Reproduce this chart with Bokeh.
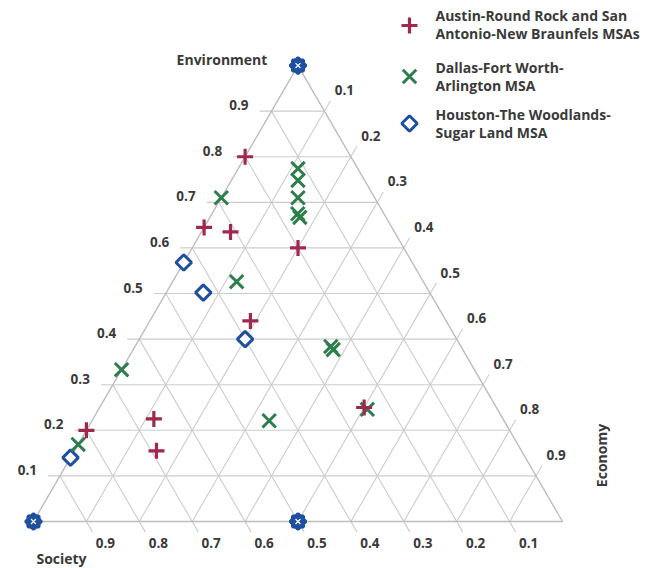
import numpy as np
from bokeh.plotting import figure
from bokeh.models import ColumnDataSource, Range1d
from bokeh.embed import file_html
from bokeh.resources import INLINE
from bokeh.core.properties import value

# ---------------- data (society, economy, environment shares) ----------------
axis_ticks = [0.1, 0.2, 0.3, 0.4, 0.5, 0.6, 0.7, 0.8, 0.9]
tick_labels = ["0.1", "0.2", "0.3", "0.4", "0.5", "0.6", "0.7", "0.8", "0.9"]

austin_society     = [0.20, 0.355, 0.31, 0.20, 0.37, 0.80, 0.66, 0.69, 0.25]
austin_economy     = [0.00, 0.000, 0.055, 0.20, 0.19, 0.00, 0.115, 0.155, 0.50]
austin_environment = [0.80, 0.645, 0.635, 0.60, 0.44, 0.20, 0.225, 0.155, 0.25]

dallas_society     = [0.29, 0.113, 0.126, 0.145, 0.163, 0.163, 0.353, 0.246, 0.245, 0.444, 0.246, 0.667, 0.831]
dallas_economy     = [0.00, 0.113, 0.126, 0.145, 0.162, 0.170, 0.121, 0.370, 0.378, 0.335, 0.508, 0.000, 0.000]
dallas_environment = [0.71, 0.774, 0.748, 0.710, 0.675, 0.667, 0.526, 0.384, 0.377, 0.221, 0.246, 0.333, 0.169]

houston_society     = [0.0, 0.432, 0.428, 0.4, 0.86, 1.0, 0.5]
houston_economy     = [0.0, 0.000, 0.070, 0.2, 0.00, 0.0, 0.5]
houston_environment = [1.0, 0.568, 0.502, 0.4, 0.14, 0.0, 0.0]
houston_overlap     = [3, 1, 1, 1, 1, 3, 3]   # coinciding entries at a location

series_names = [["Austin-Round Rock and San", "Antonio-New Braunfels MSAs"],
                ["Dallas-Fort Worth-", "Arlington MSA"],
                ["Houston-The Woodlands-", "Sugar Land MSA"]]
axis_titles = ["Environment", "Society", "Economy"]

RED, GREEN, BLUE = "#a0284f", "#2e7d4c", "#1f4f9f"
GRID = "#cccccc"
TXT = "#3a3a3a"
FONT = value("Open Sans")

# ---------------- geometry (page pixels <-> ternary data) ----------------
H = np.sqrt(3) / 2
PXX, PXY = 529.0, 526.5        # pixels per data unit
W, HT = 652, 568
OX, OY = 33, 521               # page pixel of the Society vertex

def to_xy(ec, en):
    ec = np.asarray(ec, dtype=float)
    en = np.asarray(en, dtype=float)
    return ec + en / 2, en * H

def px(xp, yp):
    return (xp - OX) / PXX, (OY - yp) / PXY

p = figure(width=W, height=HT, output_backend="svg", toolbar_location=None,
           x_range=Range1d(-OX / PXX, (W - OX) / PXX),
           y_range=Range1d(-(HT - OY) / PXY, OY / PXY),
           x_axis_location=None, y_axis_location=None, min_border=0)
p.grid.visible = False
p.outline_line_color = None
p.background_fill_color = "white"

TICK = 12
gx, gy = [], []
for t in axis_ticks:
    gx.append([t / 2 - TICK / PXX, 1 - t / 2]); gy.append([t * H, t * H])
    gx.append([(1 - t) / 2, (1 - t) + 0.5 * TICK / PXX]); gy.append([(1 - t) * H, -H * TICK / PXY])
    gx.append([t, t + (1 - t) / 2 + 0.5 * TICK / PXX]); gy.append([0, (1 - t) * H + H * TICK / PXY])
p.multi_line(gx, gy, line_color=GRID, line_width=1.1)
p.line([0, 1, 0.5, 0], [0, 0, H, 0], line_color="#bdbdbd", line_width=1.4)

t_arr = np.array(axis_ticks)
common = dict(text_font=FONT, text_font_size="13.5px", text_color=TXT, text_font_style="bold")
p.text(x=t_arr / 2, y=t_arr * H, text=tick_labels, text_align="right", text_baseline="middle",
       x_offset=-23, y_offset=-6, **common)
p.text(x=1 - t_arr, y=np.zeros_like(t_arr), text=tick_labels, text_align="center",
       text_baseline="middle", x_offset=19, y_offset=21, **common)
p.text(x=t_arr + (1 - t_arr) / 2, y=(1 - t_arr) * H, text=tick_labels, text_align="center",
       text_baseline="middle", x_offset=20, y_offset=-21, **common)

title_style = dict(text_font=FONT, text_font_size="14px", text_color=TXT, text_font_style="bold",
                   text_align="center", text_baseline="middle")
p.text(x=[0.5], y=[H], text=[axis_titles[0]], x_offset=-76, y_offset=-6, **title_style)
p.text(x=[0.0], y=[0.0], text=[axis_titles[1]], x_offset=28, y_offset=37, **title_style)
ex, ey = px(601, 455)
p.text(x=[ex], y=[ey], text=[axis_titles[2]], angle=np.pi / 2, **title_style)

# ---------------- markers ----------------
hx, hy = to_xy(houston_economy, houston_environment)
ov = np.array(houston_overlap) > 1
osrc = ColumnDataSource(dict(x=hx[ov], y=hy[ov]))
dia = dict(marker="square", angle=np.pi / 4, size=11, line_color=BLUE, line_width=3)
p.scatter("x", "y", source=osrc, marker="square", size=11, line_color=BLUE, fill_color=BLUE, line_width=3)
p.scatter(hx, hy, fill_color="white", **dia)
p.scatter("x", "y", source=osrc, fill_color=BLUE, **dia)
p.scatter("x", "y", source=osrc, marker="x", size=7, line_color="white", line_width=1.2)

dx, dy = to_xy(dallas_economy, dallas_environment)
x_style = dict(marker="x", size=19, line_color=GREEN, line_width=3)
p.scatter(dx, dy, **x_style)

ax, ay = to_xy(austin_economy, austin_environment)
plus_style = dict(marker="cross", size=16, line_color=RED, line_width=3.2)
p.scatter(ax, ay, **plus_style)

# ---------------- legend (top right) ----------------
LEG_MX, LEG_TX = 409, 435
leg_marker_y = [25, 76, 123]
leg_line_y = [(15, 33), (67, 85), (114, 132)]
styles = [plus_style, x_style, dict(fill_color="white", **dia)]
for names, my, (l1, l2), st in zip(series_names, leg_marker_y, leg_line_y, styles):
    mx_, my_ = px(LEG_MX, my)
    p.scatter([mx_], [my_], **st)
    tx, ty1 = px(LEG_TX, l1)
    _, ty2 = px(LEG_TX, l2)
    p.text(x=[tx, tx], y=[ty1, ty2], text=names, text_font=FONT, text_font_size="14px",
           text_color=TXT, text_font_style="bold", text_align="left", text_baseline="middle")

open("out.html", "w").write(file_html(p, INLINE))
